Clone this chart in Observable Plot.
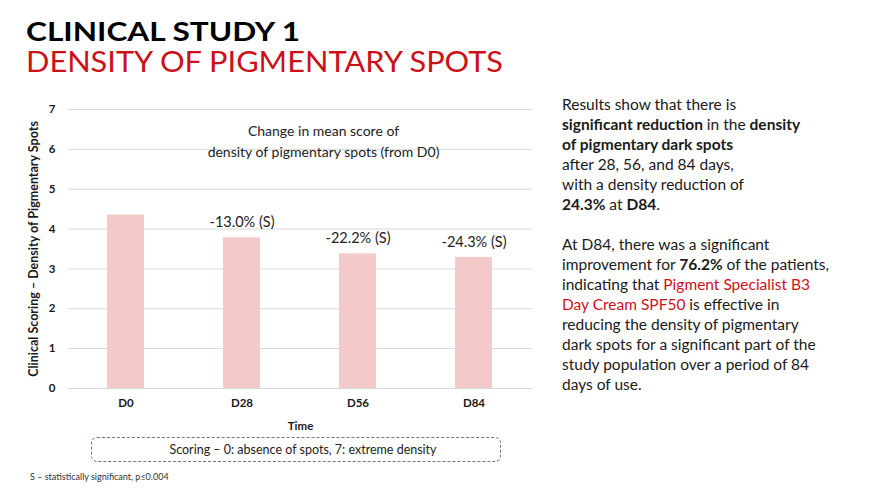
<!DOCTYPE html>
<html><head><meta charset="utf-8">
<script src="https://cdn.jsdelivr.net/npm/d3@7"></script>
<script src="https://cdn.jsdelivr.net/npm/@observablehq/plot@0.6"></script>
<style>
html,body{margin:0;padding:0;background:#fff;}
#root{position:relative;width:870px;height:490px;overflow:hidden;font-family:Lato,"Open Sans",sans-serif;color:#1a1a1a;}
.t1{position:absolute;left:26px;top:18px;font-size:26px;font-weight:700;color:#000;line-height:27px;white-space:nowrap;transform-origin:0 0;}
.t2{position:absolute;left:26px;top:46px;font-size:29px;font-weight:400;color:#cc1018;line-height:29px;white-space:nowrap;transform-origin:0 0;}
#chart{position:absolute;left:0;top:95px;}
.side{position:absolute;left:562px;top:94px;font-size:15.5px;line-height:20px;color:#1a1a1a;}
.side b{font-weight:700;}
.red{color:#d0101b;}
.box{position:absolute;left:91px;top:437px;width:408px;height:23px;border:1.3px dashed #6b7590;border-radius:6px;font-size:12.5px;text-align:center;line-height:23px;color:#222;box-sizing:content-box;}
.box span{position:relative;left:7px;}
.foot{position:absolute;left:30px;top:471px;font-size:9px;color:#333;}
</style></head>
<body><div id="root">
<div class="t1" id="t1">CLINICAL STUDY 1</div>
<div class="t2" id="t2">DENSITY OF PIGMENTARY SPOTS</div>
<div id="chart"></div>
<div class="side">
Results show that there is<br>
<b>significant reduction</b> in the <b>density</b><br>
<b>of pigmentary dark spots</b><br>
after 28, 56, and 84 days,<br>
with a density reduction of<br>
<b>24.3%</b> at <b>D84</b>.<br>
<br>
At D84, there was a significant<br>
improvement for <b>76.2%</b> of the patients,<br>
indicating that <span class="red">Pigment Specialist B3</span><br>
<span class="red">Day Cream SPF50</span> is effective in<br>
reducing the density of pigmentary<br>
dark spots for a significant part of the<br>
study population over a period of 84<br>
days of use.
</div>
<div class="box"><span>Scoring – 0: absence of spots, 7: extreme density</span></div>
<div class="foot">S – statistically significant, p≤0.004</div>
</div>
<script>
const categories = ["D0", "D28", "D56", "D84"];
const scores = [4.35, 3.78, 3.38, 3.29];
const changeLabels = ["", "-13.0% (S)", "-22.2% (S)", "-24.3% (S)"];
const yTicks = [0, 1, 2, 3, 4, 5, 6, 7];
const annotation = ["Change in mean score of", "density of pigmentary spots (from D0)"];

const data = categories.map((c, i) => ({cat: c, v: scores[i], lab: changeLabels[i]}));

const chart = Plot.plot({
  width: 545,
  height: 340,
  marginLeft: 68,
  marginRight: 13,
  marginTop: 14,
  marginBottom: 47,
  style: {fontFamily: "Lato, 'Open Sans', sans-serif", color: "#1a1a1a", background: "transparent"},
  x: {domain: categories, paddingInner: 0.68, paddingOuter: 0.34, label: null},
  y: {domain: [0, 7], label: null},
  marks: [
    Plot.gridY(yTicks, {stroke: "#d9d9d9", strokeOpacity: 1, strokeWidth: 1}),
    Plot.barY(data, {x: "cat", y: "v", fill: "#f4c9c9"}),
    Plot.text(data, {x: "cat", y: "v", text: "lab", dy: -15, fontSize: 14.5, fill: "#222"}),
    Plot.axisY(yTicks, {tickSize: 0, tickPadding: 13, fontSize: 11.5, fontWeight: 700, label: null}),
    Plot.axisX({tickSize: 0, tickPadding: 10, fontSize: 11.5, fontWeight: 700, label: null}),
    Plot.text([annotation.join("\n")], {frameAnchor: "top", dx: 23, dy: 12, fontSize: 14, lineHeight: 1.5, fill: "#222"}),
    Plot.text(["Time"], {frameAnchor: "bottom", dy: 41, fontSize: 11.5, fontWeight: 700, fill: "#1a1a1a"}),
    Plot.text(["Clinical Scoring – Density of Pigmentary Spots"], {frameAnchor: "left", textAnchor: "middle", dx: -35, rotate: -90, fontSize: 12.5, fontWeight: 700, fill: "#1a1a1a"})
  ]
});
document.getElementById("chart").appendChild(chart);

// stretch title lines horizontally to match the wide geometric typeface of the original
function fit(id, target) {
  const el = document.getElementById(id);
  const w = el.getBoundingClientRect().width;
  el.style.transform = `scaleX(${target / w})`;
}
fit("t1", 274);
fit("t2", 477);
</script>
</body></html>
